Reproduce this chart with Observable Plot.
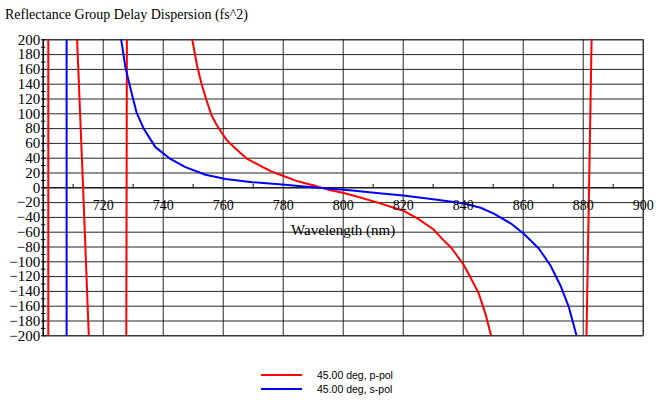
<!DOCTYPE html>
<html><head><meta charset="utf-8">
<script src="https://cdn.jsdelivr.net/npm/d3@7"></script>
<script src="https://cdn.jsdelivr.net/npm/@observablehq/plot@0.6"></script>
<style>
body{margin:0;background:#fff;}
#wrap{position:relative;width:668px;height:400px;overflow:hidden;background:#fff;}
#title{position:absolute;left:5px;top:8px;font:14px/14px "Liberation Serif","Times New Roman",serif;color:#000;white-space:nowrap;}
#chart{position:absolute;left:0;top:28px;}
#legend{position:absolute;left:261px;top:368px;font:10.5px "Liberation Sans",Arial,sans-serif;color:#000;}
.row{display:flex;align-items:center;height:14px;white-space:nowrap;}
.sw{width:41px;height:2px;margin-right:15px;}
</style></head>
<body>
<div id="wrap">
  <div id="title">Reflectance Group Delay Dispersion (fs^2)</div>
  <div id="chart"></div>
  <div id="legend"></div>
</div>
<script>
// ---- data ----
const seriesNames = ["45.00 deg, p-pol", "45.00 deg, s-pol"];
const seriesColors = ["#ff0000", "#0000ff"];

// p-pol: NaN separates branches
const pLambda = [701.7, 701.7, NaN, 711.3, 713.3, 715.2, NaN, 727.9, 727.7, NaN,
  749.7, 751.3, 752.8, 754.3, 756.1, 757.7, 759.4, 761.3, 764.1, 768, 771.3, 775.8,
  779.7, 783.9, 787, 790.2, 795, 800.2, 806, 812.3, 820, 825, 830, 833.5, 836, 840,
  842.4, 845.2, 847.4, 849.3, NaN, 881.1, 882.8];
const pGdd = [200, -200, NaN, 200, 0, -200, NaN, 200, -200, NaN,
  200, 165, 140, 120, 98, 86, 75, 64, 53, 39, 32, 22.5,
  16.6, 10, 6.5, 3, -2.5, -7, -13.5, -21, -31, -42, -56, -71, -81, -103,
  -121, -143, -170, -200, NaN, -200, 200];

// s-pol
const sLambda = [707.8, 707.8, NaN,
  726, 727.4, 729.1, 731.1, 733.5, 737.4, 742.4, 747.4, 754.1, 760.8, 769.7, 779.7, 786,
  795.8, 803, 812, 820, 830, 840, 845.8, 850.2, 855.8, 860.2, 865.2, 869.1, 872.4, 875.2, 877.8];
const sGdd = [200, -200, NaN,
  200, 163, 134, 102, 80, 55, 39, 28, 17.6, 12, 7.6, 4.5, 2,
  -1.4, -3.5, -7.5, -10.4, -15.5, -21, -27, -35, -48, -62, -82, -105, -132, -161, -200];

const yTicks = d3.range(-200, 201, 20);
const yMinor = d3.range(-200, 201, 10);
const xGrid = d3.range(700, 901, 20);
const xLabels = d3.range(720, 901, 20);
const xMinor = d3.range(710, 900, 20);

const pData = pLambda.map((x, i) => ({x, y: pGdd[i]}));
const sData = sLambda.map((x, i) => ({x, y: sGdd[i]}));

const chart = Plot.plot({
  width: 668, height: 320,
  marginTop: 11.3, marginBottom: 12.7, marginLeft: 42.7, marginRight: 25.3,
  x: {domain: [700, 900], axis: null},
  y: {domain: [-200, 200]},
  style: {fontFamily: "'Liberation Serif','Times New Roman',serif", fontSize: "14px", color: "#000", background: "#fff"},
  marks: [
    Plot.gridY(yTicks, {stroke: "#000", strokeOpacity: 0.85}),
    Plot.gridX(xGrid, {stroke: "#000", strokeOpacity: 0.85}),
    Plot.frame({stroke: "#000", strokeOpacity: 0.6}),
    Plot.ruleY([0], {stroke: "#000"}),
    Plot.ruleX([700], {stroke: "#000"}),
    Plot.ruleX(xMinor, {y1: -1.5, y2: 4.5, stroke: "#000"}),
    Plot.ruleY(yMinor, {x1: 699.4, x2: 700.9, stroke: "#000"}),
    Plot.axisY(yTicks, {tickSize: 0, tickPadding: 3, fontSize: 15, label: null}),
    Plot.line(pData, {x: "x", y: "y", stroke: seriesColors[0], strokeWidth: 2, clip: true}),
    Plot.line(sData, {x: "x", y: "y", stroke: seriesColors[1], strokeWidth: 2, clip: true}),
    Plot.text(xLabels, {x: d => d, y: 0, dy: 18, fontSize: 14}),
    Plot.text(["Wavelength (nm)"], {x: 800, y: 0, dy: 42, fontSize: 15})
  ]
});
document.getElementById("chart").appendChild(chart);

const legend = document.getElementById("legend");
seriesNames.forEach((name, i) => {
  const row = document.createElement("div");
  row.className = "row";
  const sw = document.createElement("div");
  sw.className = "sw";
  sw.style.background = seriesColors[i];
  const t = document.createElement("span");
  t.textContent = name;
  row.appendChild(sw);
  row.appendChild(t);
  legend.appendChild(row);
});
</script>
</body></html>
